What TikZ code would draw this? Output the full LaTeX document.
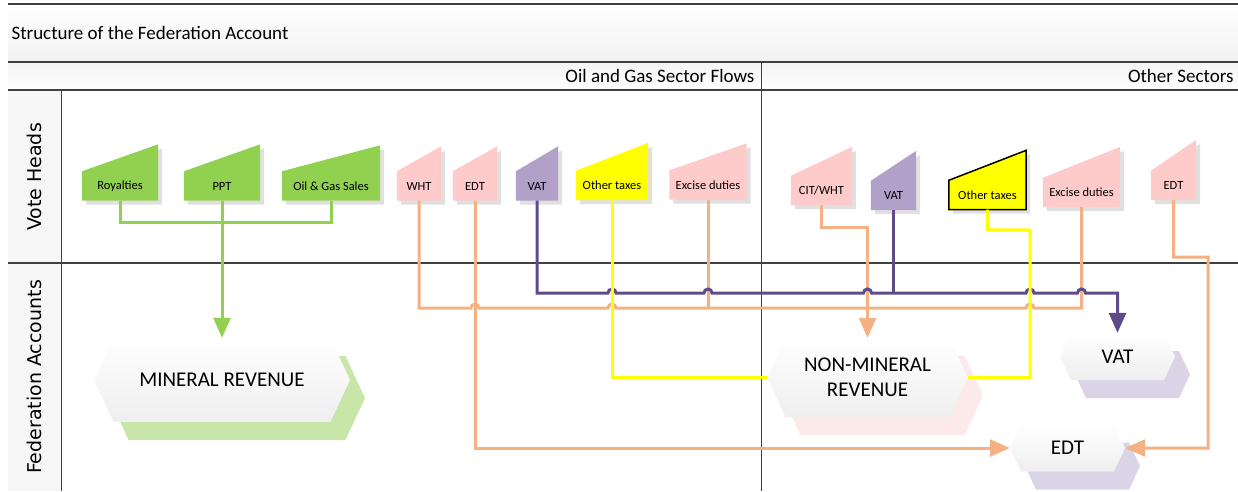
\documentclass[tikz,border=0pt]{standalone}
\usepackage{fontspec}
\setmainfont{Carlito}
\newfontfamily\sidefont{DejaVu Sans}
\usetikzlibrary{arrows.meta,shapes.symbols,shadows,backgrounds}

\definecolor{grn}{HTML}{92D050}
\definecolor{pnk}{HTML}{FFCACA}
\definecolor{prp}{HTML}{B1A0C7}
\definecolor{ylw}{HTML}{FFFF00}
\definecolor{pch}{HTML}{F4B183}
\definecolor{dprp}{HTML}{5F4A8B}
\definecolor{grnshade}{HTML}{C7E6A8}
\definecolor{pnkshade}{HTML}{FCEAEA}
\definecolor{prpshade}{HTML}{DAD4E6}
\definecolor{rule}{HTML}{404040}

% slanted-top vote head: name, fill, centre of the box, width, rise, text
\def\vpoly#1#2#3{([shift={#3}]#1.south west) -- ([shift={#3}]#1.south east) -- ([shift={#3}, yshift=#2pt]#1.north east) -- ([shift={#3}]#1.north west) -- cycle}
\def\vhead#1#2#3#4#5#6{\node[vhead, minimum width=#4pt] (#1) at (#3) {#6};
    \begin{pgfonlayer}{background}
        \fill[black!12] \vpoly{#1}{#5}{(4pt,-4pt)};
        \path[#2] \vpoly{#1}{#5}{(0pt,0pt)};
    \end{pgfonlayer}}
\def\hop#1#2{-- ({#1-4},#2) arc[start angle=180,end angle=0,radius=4pt]}

\begin{document}
\begin{tikzpicture}[x=1pt, y=-1pt,
    vhead/.style={inner sep=0pt, minimum height=29pt, font=\fontsize{12.5}{14}\selectfont},
    hexa/.style={signal, signal to=west and east, signal pointer angle=130,
        top color=white, bottom color=gray!13, inner sep=0pt,
        font=\fontsize{21}{25}\selectfont},
    link/.style={line width=3pt},
    arr/.style={-{Triangle[width=17pt,length=20pt]}},
    ttl/.style={font=\fontsize{19}{22}\selectfont},
    side/.style={rotate=90, font=\sidefont\fontsize{19}{22}\selectfont}]
    \useasboundingbox (0,0) rectangle (1238,491);

    \begin{pgfonlayer}{background}
        \shade[top color=white, bottom color=gray!11] (8,4) rectangle (1238,62);
        \shade[top color=gray!9, bottom color=white] (8,62) rectangle (1238,90);
        \fill[gray!7] (8,90) rectangle (61,491);
    \end{pgfonlayer}
    \draw[rule, line width=1.5pt] (8,4) -- (1238,4) (8,62) -- (1238,62)
        (8,90) -- (1238,90) (8,263) -- (1238,263);
    \draw[rule, line width=1pt] (61,90) -- (61,491) (761,62) -- (761,491);

    \node[ttl, anchor=west] (title) at (8,33) {Structure of the Federation Account};
    \node[ttl, anchor=east] (oilgas) at (758,76) {Oil and Gas Sector Flows};
    \node[ttl, anchor=east] (others) at (1237,76) {Other Sectors};
    \node[side] (vote) at (34,177) {Vote Heads};
    \node[side] (fedacc) at (34,377) {Federation Accounts};

    % vote heads
    \vhead{roy}{fill=grn}{120,186}{76}{27}{Royalties}
    \vhead{ppt}{fill=grn}{222,186}{76}{27}{PPT}
    \vhead{oil}{fill=grn}{331,186}{98}{26}{Oil \& Gas Sales}
    \vhead{wht}{fill=pnk}{419,186}{44}{25}{WHT}
    \vhead{edta}{fill=pnk}{475,186}{44}{25}{EDT}
    \vhead{vata}{fill=prp}{537,186}{42}{25}{VAT}
    \vhead{otha}{fill=ylw}{612,185.5}{72}{28}{Other taxes}
    \vhead{exca}{fill=pnk}{708,185}{77}{27}{Excise duties}
    \vhead{cit}{fill=pnk}{821.5,190.5}{61}{29}{CIT/WHT}
    \vhead{vatb}{fill=prp}{893.5,195.5}{45}{30}{VAT}
    \vhead{othb}{fill=ylw, draw=black, line width=1.5pt}{987.5,195}{77}{30}{Other taxes}
    \vhead{excb}{fill=pnk}{1081.5,192.5}{77}{31}{Excise duties}
    \vhead{edtb}{fill=pnk}{1173.5,185.5}{45}{31}{EDT}

    % federation accounts
    \node[hexa, minimum width=256pt, minimum height=84pt,
        drop shadow={shadow xshift=15pt, shadow yshift=-18pt, fill=grnshade, opacity=1}]
        (minrev) at (222,380) {MINERAL REVENUE};
    \node[hexa, minimum width=201pt, minimum height=79pt, align=center,
        drop shadow={shadow xshift=15pt, shadow yshift=-18pt, fill=pnkshade, opacity=1}]
        (nonmin) at (867.5,377.5) {NON-MINERAL\\REVENUE};
    \node[hexa, minimum width=115pt, minimum height=47pt,
        drop shadow={shadow xshift=15pt, shadow yshift=-18pt, fill=prpshade, opacity=1}]
        (vathex) at (1117.5,356.5) {VAT};
    \node[hexa, minimum width=115pt, minimum height=47pt,
        drop shadow={shadow xshift=15pt, shadow yshift=-18pt, fill=prpshade, opacity=1}]
        (edthex) at (1067.5,448) {EDT};

    % flows
    \draw[link, grn] (roy.south) -- ++(0,22) -| (oil.south);
    \draw[link, grn, arr] (ppt.south) -- (minrev.north);

    \draw[link, pch] (wht.south) -- (419,308) \hop{475}{308} \hop{612}{308} \hop{1030}{308} -- (1081.5,308) -- (excb.south);
    \draw[link, pch] (exca.south) -- (708,308);
    \draw[link, pch, arr] (cit.south) -- ++(0,22) -| (nonmin.north);
    \draw[link, pch, arr] (edta.south) |- (edthex.west);
    \draw[link, pch, arr] (edtb.south) -- ++(0,57) -- (1208,257) |- (edthex.east);

    \draw[link, dprp, arr] (vata.south) -- (537,293) \hop{612}{293} \hop{708}{293} \hop{867.5}{293} \hop{1030}{293} \hop{1081.5}{293} -| (vathex.north);
    \draw[link, dprp] (vatb.south) -- (893.5,293);

    \draw[link, ylw] (otha.south) |- (nonmin.west);
    \draw[link, ylw] (othb.south) -- ++(0,20) -- (1030,230) |- (nonmin.east);
\end{tikzpicture}
\end{document}
